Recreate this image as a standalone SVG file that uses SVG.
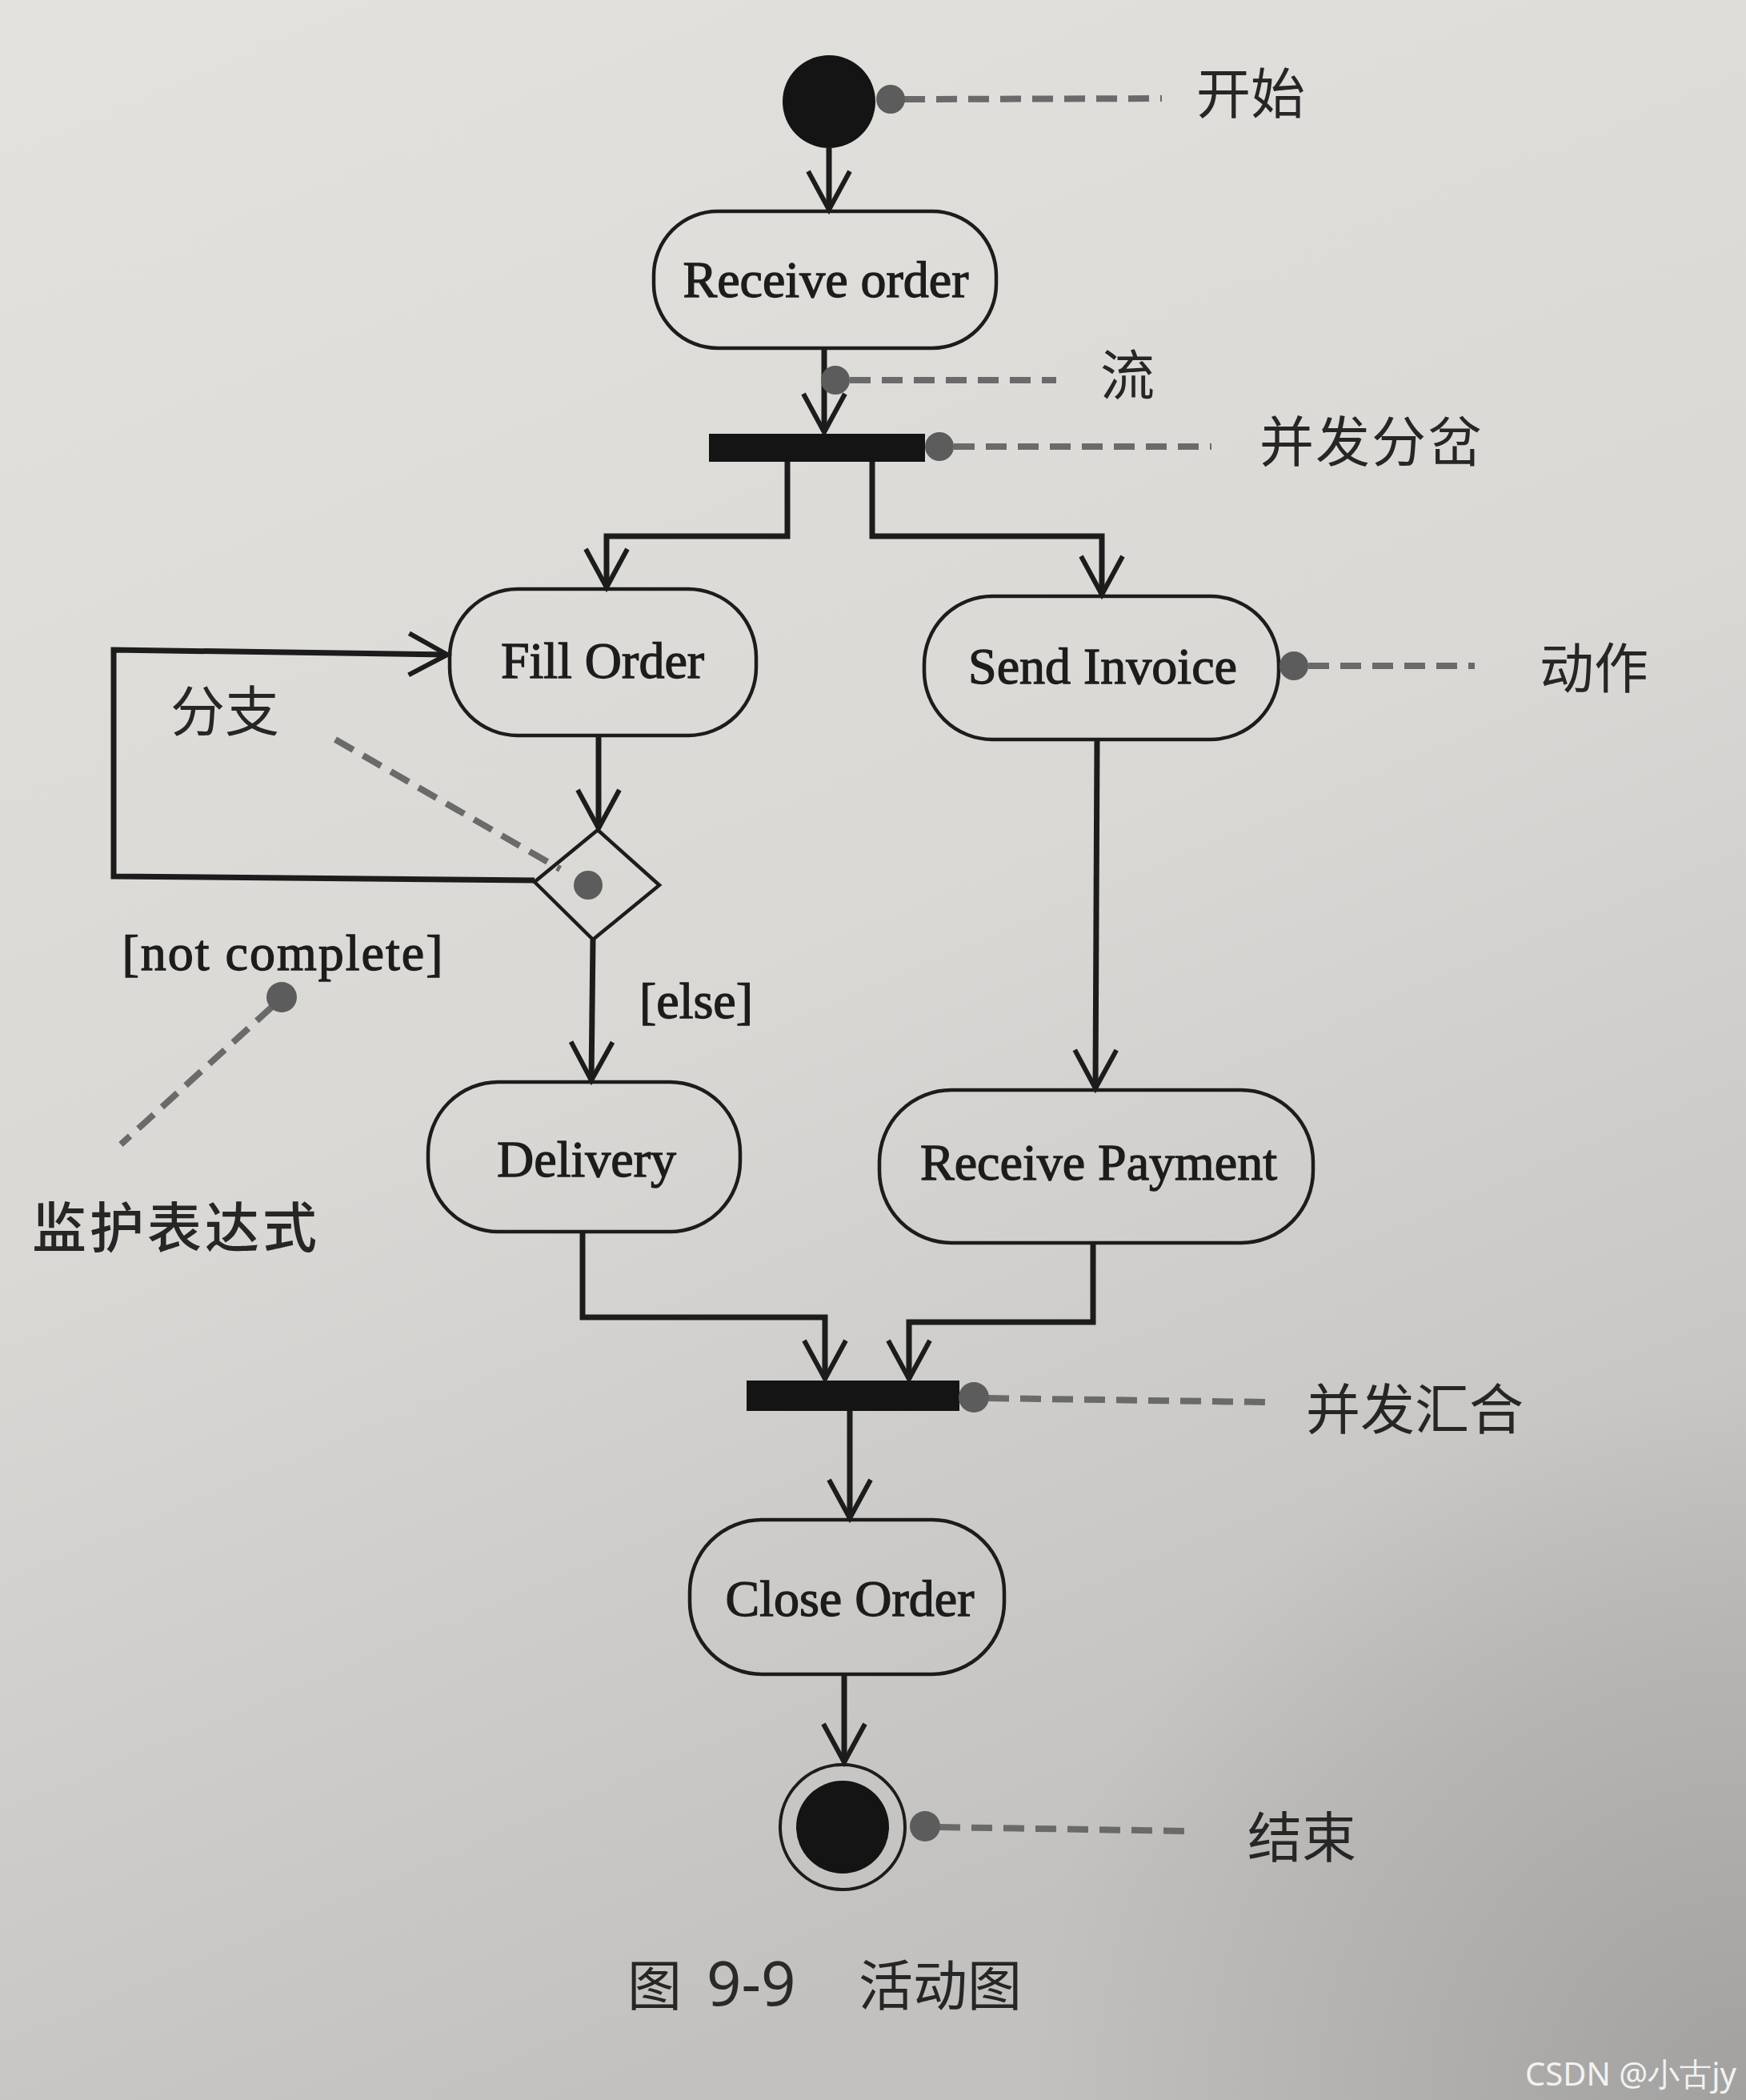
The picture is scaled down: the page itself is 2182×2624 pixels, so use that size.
<svg xmlns="http://www.w3.org/2000/svg" width="2182" height="2624" viewBox="0 0 2182 2624">
<defs>
<linearGradient id="bg" x1="0" y1="0" x2="0.35" y2="1">
<stop offset="0" stop-color="#e4e2df"/>
<stop offset="0.55" stop-color="#dad8d5"/>
<stop offset="1" stop-color="#c2c1bf"/>
</linearGradient>
<radialGradient id="corner" cx="2182" cy="2624" r="900" gradientUnits="userSpaceOnUse">
<stop offset="0" stop-color="#9e9d9b" stop-opacity="0.9"/>
<stop offset="1" stop-color="#9e9d9b" stop-opacity="0"/>
</radialGradient>
<marker id="arr" viewBox="-54 -30 60 60" refX="0" refY="0" markerWidth="60" markerHeight="60" markerUnits="userSpaceOnUse" orient="auto">
<path d="M-48,-26 L0,0 L-48,26" fill="none" stroke="#1c1c1c" stroke-width="6"/>
</marker>
<style>
.flow{fill:none;stroke:#1c1c1c;stroke-width:7;stroke-linejoin:miter}
.act{fill:none;stroke:#1c1c1c;stroke-width:4.5}
.lbl{font-family:"Liberation Serif","Times New Roman",serif;font-size:64px;fill:#1c1c1c;stroke:#1c1c1c;stroke-width:1.3;text-anchor:middle}
.cn{font-family:"Noto Sans CJK SC","Noto Sans",sans-serif;font-size:68px;fill:#262626}
.note{fill:none;stroke:#6a6a6a;stroke-width:8;stroke-dasharray:26 14}
.dot{fill:#5c5c5c}
.bar{fill:#141414}
</style>
</defs>
<rect x="0" y="0" width="2182" height="2624" fill="url(#bg)"/>
<rect x="0" y="0" width="2182" height="2624" fill="url(#corner)"/>

<g id="connectors">
<line class="flow" x1="1036" y1="185" x2="1036" y2="262" marker-end="url(#arr)"/>
<line class="flow" x1="1030" y1="435" x2="1030" y2="540" marker-end="url(#arr)"/>
<polyline class="flow" points="984,577 984,670 758,670 758,734" marker-end="url(#arr)" stroke-width="8"/>
<polyline class="flow" points="1090,577 1090,670 1377,670 1377,743" marker-end="url(#arr)" stroke-width="8"/>
<line class="flow" x1="748" y1="919" x2="748" y2="1035" marker-end="url(#arr)"/>
<polyline class="flow" points="668,1100 142,1095 142,812 559,818" marker-end="url(#arr)"/>
<line class="flow" x1="741" y1="1174" x2="739" y2="1350" marker-end="url(#arr)"/>
<line class="flow" x1="1371" y1="924" x2="1369" y2="1360" marker-end="url(#arr)"/>
<polyline class="flow" points="728,1540 728,1646 1031,1646 1031,1723" marker-end="url(#arr)" stroke-width="8"/>
<polyline class="flow" points="1366,1553 1366,1652 1136,1652 1136,1723" marker-end="url(#arr)" stroke-width="8"/>
<line class="flow" x1="1062" y1="1763" x2="1062" y2="1897" marker-end="url(#arr)"/>
<line class="flow" x1="1055" y1="2092" x2="1055" y2="2202" marker-end="url(#arr)"/>
</g>

<g id="start">
<circle cx="1036" cy="127" r="58" fill="#141414"/>
</g>
<g id="receive-order">
<rect class="act" x="817" y="264" width="428" height="171" rx="80" ry="80"/>
<text class="lbl" x="1032" y="371" font-size="62">Receive order</text>
</g>
<g id="fork">
<rect class="bar" x="886" y="542" width="270" height="35"/>
</g>
<g id="fill-order">
<rect class="act" x="562" y="736" width="383" height="183" rx="85" ry="85"/>
<text class="lbl" x="753" y="847">Fill Order</text>
</g>
<g id="send-invoice">
<rect class="act" x="1155" y="745" width="443" height="179" rx="85" ry="85"/>
<text class="lbl" x="1378" y="854">Send Invoice</text>
</g>
<g id="decision">
<polygon class="act" points="747,1037 824,1106 741,1174 668,1102"/>
</g>
<g id="delivery">
<rect class="act" x="535" y="1352" width="390" height="187" rx="88" ry="88"/>
<text class="lbl" x="733" y="1470">Delivery</text>
</g>
<g id="receive-payment">
<rect class="act" x="1099" y="1362" width="542" height="191" rx="90" ry="90"/>
<text class="lbl" x="1373" y="1474">Receive Payment</text>
</g>
<g id="join">
<rect class="bar" x="933" y="1725" width="266" height="38"/>
</g>
<g id="close-order">
<rect class="act" x="862" y="1899" width="393" height="193" rx="90" ry="90"/>
<text class="lbl" x="1062" y="2019">Close Order</text>
</g>
<g id="end">
<circle cx="1053" cy="2283" r="78" fill="none" stroke="#1c1c1c" stroke-width="4"/>
<circle cx="1053" cy="2283" r="58" fill="#141414"/>
</g>

<g id="annotations">
<line class="note" x1="1130" y1="124" x2="1452" y2="123"/>
<circle class="dot" cx="1113" cy="124" r="18"/>
<text class="cn" x="1495" y="142">开始</text>

<line class="note" x1="1062" y1="475" x2="1320" y2="475"/>
<circle class="dot" cx="1044" cy="475" r="18"/>
<text class="cn" x="1375" y="494">流</text>

<line class="note" x1="1192" y1="558" x2="1514" y2="558"/>
<circle class="dot" cx="1174" cy="558" r="18"/>
<text class="cn" x="1574" y="577" letter-spacing="2">并发分岔</text>

<line class="note" x1="1635" y1="832" x2="1843" y2="832"/>
<circle class="dot" cx="1617" cy="832" r="18"/>
<text class="cn" x="1924" y="860">动作</text>

<text class="cn" x="213" y="914">分支</text>
<line class="note" x1="419" y1="924" x2="700" y2="1086" stroke-width="7"/>
<circle class="dot" cx="735" cy="1106" r="18"/>

<text class="lbl" x="354" y="1212" font-size="66" letter-spacing="2">[not complete]</text>
<line class="note" x1="340" y1="1258" x2="151" y2="1430" stroke-width="7"/>
<circle class="dot" cx="352" cy="1246" r="19"/>
<text class="cn" x="40" y="1559" font-size="74" letter-spacing="4" font-weight="500">监护表达式</text>

<text class="lbl" x="870" y="1272">[else]</text>

<line class="note" x1="1235" y1="1747" x2="1581" y2="1752"/>
<circle class="dot" cx="1217" cy="1746" r="19"/>
<text class="cn" x="1632" y="1786">并发汇合</text>

<line class="note" x1="1174" y1="2283" x2="1484" y2="2288"/>
<circle class="dot" cx="1156" cy="2282" r="19"/>
<text class="cn" x="1559" y="2321">结束</text>
</g>

<g id="caption">
<text class="cn" x="784" y="2506" font-size="76" fill="#2a2a2a">图</text>
<text x="883" y="2506" font-family="Noto Sans, sans-serif" font-size="76" fill="#2a2a2a">9-9</text>
<text class="cn" x="1073" y="2506" font-size="76" fill="#2a2a2a">活动图</text>
</g>
<text x="1906" y="2606" font-family="Noto Sans, sans-serif" font-size="40" fill="#f2f2f2">CSDN @小古jy</text>
</svg>
